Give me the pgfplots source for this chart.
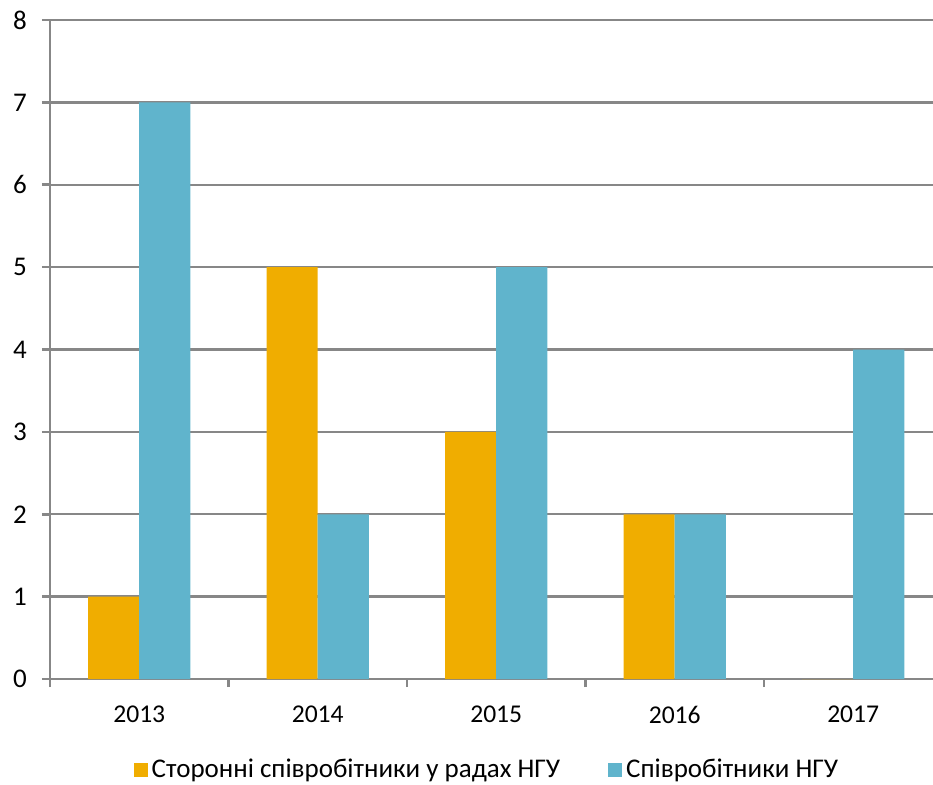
\documentclass[border=0pt]{standalone}
\usepackage{pgfplots}
\pgfplotsset{compat=1.18}
\usepackage{fontspec}
\setmainfont{Carlito}
\definecolor{barorange}{HTML}{F0AD00}
\definecolor{barblue}{HTML}{60B4CC}
\definecolor{axgray}{HTML}{878787}
\begin{document}
\begin{tikzpicture}
\begin{axis}[
  scale only axis,
  width=441.5pt, height=329.5pt,
  xmin=-0.5, xmax=4.447,
  ymin=0, ymax=8,
  ytick={0,1,...,8},
  xtick={0,1,2,3,4},
  xticklabels={2013,2014,2015,2016,2017},
  minor xtick={-0.5,0.5,1.5,2.5,3.5},
  axis x line*=bottom, axis y line*=left,
  axis line style={axgray, line width=1.3pt, -},
  every tick/.style={axgray, line width=1.3pt},
  tick align=outside,
  major tick length=4pt,
  minor tick length=4pt,
  major x tick style={draw=none},
  ymajorgrids,
  grid style={axgray, line width=1.2pt},
  /pgf/number format/assume math mode=true,
  yticklabel style={font=\fontsize{13.5}{15}\selectfont, xshift=-4pt},
  xticklabel style={font=\fontsize{12.8}{14}\selectfont, yshift=-6pt},
  ybar, bar width=0.286,
  legend style={at={(axis description cs:0.496,-0.138)}, anchor=center, draw=none,
    font=\fontsize{13.5}{15}\selectfont, legend columns=2,
    /tikz/every even column/.append style={column sep=22pt}},
  legend image code/.code={\fill[#1] (0pt,-3.5pt) rectangle (7pt,3.5pt);},
  clip=false,
]
\addplot[fill=barorange, draw=none, bar shift=-0.143] coordinates {(0,1) (1,5) (2,3) (3,2) (4,0)};
\addlegendentry{Сторонні співробітники у радах НГУ}
\addplot[fill=barblue, draw=none, bar shift=0.143] coordinates {(0,7) (1,2) (2,5) (3,2) (4,4)};
\addlegendentry{Співробітники НГУ}
\end{axis}
\pgfresetboundingbox
\path (-25pt,-52.5pt) rectangle (441.5pt,339.5pt);
\end{tikzpicture}
\end{document}
